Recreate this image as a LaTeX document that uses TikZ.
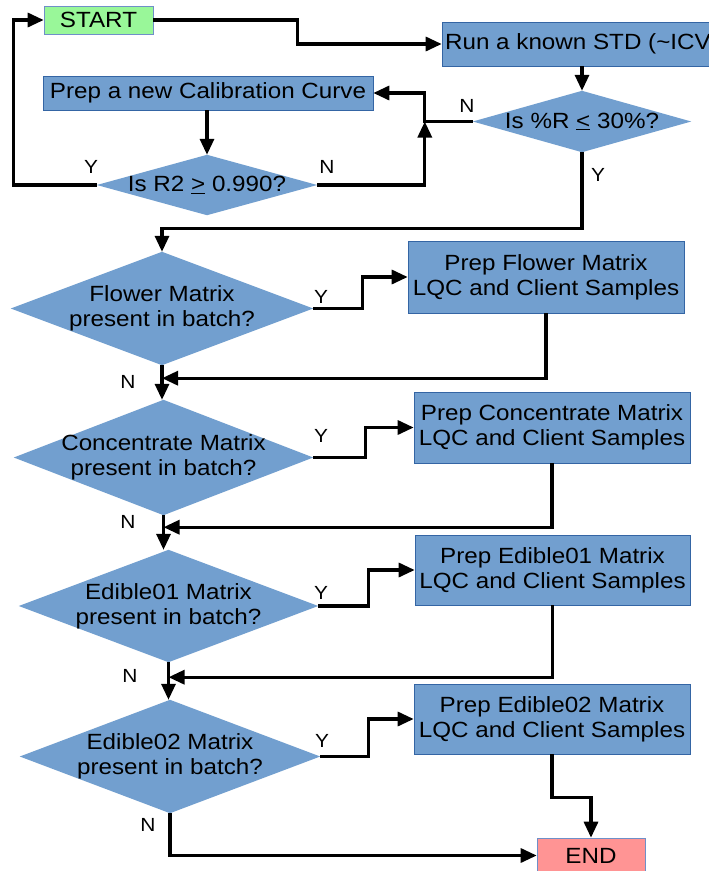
\documentclass[tikz,border=0pt]{standalone}
\usepackage{fontspec}
\setmainfont[FakeStretch=1.1]{Liberation Sans}
\usetikzlibrary{arrows.meta,backgrounds,calc}
\definecolor{boxblue}{HTML}{729FCF}
\definecolor{boxline}{HTML}{3465A4}
\definecolor{startgreen}{HTML}{99F799}
\definecolor{endred}{HTML}{FF9494}
\definecolor{softline}{HTML}{6F8FC8}
\tikzset{
  base/.style={font=\fontsize{22}{25}\selectfont, align=center, inner sep=1pt},
  procbox/.style={base, rectangle, fill=boxblue, draw=boxline, line width=0.6pt},
  termstart/.style={base, rectangle, fill=startgreen, draw=softline, line width=0.6pt},
  termend/.style={base, rectangle, fill=endred, draw=softline, line width=0.6pt},
  diabox/.style={base, rectangle},
  diafill/.style={fill=boxblue},
  arr/.style={draw=black, line width=3.2pt, -{Triangle[length=16pt,width=14pt]}},
  lab/.style={font=\fontsize{19}{21}\selectfont, inner sep=0pt}
}
\begin{document}
\begin{tikzpicture}[x=1pt,y=1pt]
\useasboundingbox (0,0) rectangle (709,-871);

% process and terminal nodes
\node[termstart, minimum width=109, minimum height=28] (start) at (98.5,-20) {START};
\node[procbox, minimum width=280, minimum height=44] (std) at (582,-44) {Run a known STD (\textasciitilde ICV)};
\node[procbox, minimum width=330, minimum height=34] (cal) at (208,-93) {Prep a new Calibration Curve};
\node[procbox, minimum width=276, minimum height=72] (pf) at (546,-277) {Prep Flower Matrix\\LQC and Client Samples};
\node[procbox, minimum width=276, minimum height=71] (pc) at (552,-427.5) {Prep Concentrate Matrix\\LQC and Client Samples};
\node[procbox, minimum width=275, minimum height=70] (pe1) at (552.5,-570) {Prep Edible01 Matrix\\LQC and Client Samples};
\node[procbox, minimum width=276, minimum height=70] (pe2) at (552,-719) {Prep Edible02 Matrix\\LQC and Client Samples};
\node[termend, minimum width=108, minimum height=35] (end) at (591,-855.5) {END};

% decision nodes (diamonds drawn on background)
\node[diabox, minimum width=218, minimum height=61] (pr) at (582,-121.5) {Is \%R \underline{<} 30\%?};
\node[diabox, minimum width=220, minimum height=60] (r2) at (207,-185) {Is R2 \underline{>} 0.990?};
\node[diabox, minimum width=302, minimum height=113] (fl) at (162,-308.5) {Flower Matrix\\present in batch?};
\node[diabox, minimum width=299, minimum height=115] (co) at (163.5,-457.5) {Concentrate Matrix\\present in batch?};
\node[diabox, minimum width=299, minimum height=112] (e1) at (168.5,-606) {Edible01 Matrix\\present in batch?};
\node[diabox, minimum width=300, minimum height=113] (e2) at (170,-756.5) {Edible02 Matrix\\present in batch?};

\begin{scope}[on background layer]
  \fill[white] (0,0) rectangle (709,-871);
  \foreach \d in {pr,r2,fl,co,e1,e2}{
    \fill[diafill] (\d.north) -- (\d.east) -- (\d.south) -- (\d.west) -- cycle;
  }
\end{scope}

% junction points
\coordinate (jn0) at ($(pr.west)+(-48,0)$);
\coordinate (jn1) at ($(fl.south)+(0,-13)$);
\coordinate (jn2) at ($(co.south)+(0,-12)$);
\coordinate (jn3) at ($(e1.south)+(0,-15)$);

% top section
\draw[arr] (start.east) -- ++(144,0) |- (std.west);
\draw[arr] (std.south -| pr.north) -- (pr.north);
\draw[arr] (pr.west) -- (jn0) |- (cal.east);
\draw[arr] (cal.south -| r2.north) -- (r2.north);
\draw[arr] (r2.east) -| (jn0);
\draw[arr] (r2.west) -- ++(-83,0) |- (start.west);
\draw[arr] (pr.south) -- ++(0,-76) -| (fl.north);

% matrix section
\draw[arr] (fl.east) -- ++(49,0) |- (pf.west);
\draw[arr] (pf.south) |- (jn1);
\draw[arr] (fl.south) -- (fl.south |- co.north);

\draw[arr] (co.east) -- ++(52,0) |- (pc.west);
\draw[arr] (pc.south) |- (jn2);
\draw[arr] (co.south) -- (co.south |- e1.north);

\draw[arr] (e1.east) -- ++(50,0) |- (pe1.west);
\draw[arr] (pe1.south) |- (jn3);
\draw[arr] (e1.south) -- (e1.south |- e2.north);

\draw[arr] (e2.east) -- ++(48,0) |- (pe2.west);
\draw[arr] (pe2.south) -- ++(0,-43) -| (end.north);
\draw[arr] (e2.south) |- (end.west);

% labels
\node[lab] (lN1) at (467,-106) {N};
\node[lab] (lN2) at (327,-167) {N};
\node[lab] (lY1) at (91,-167) {Y};
\node[lab] (lY2) at (598,-175) {Y};
\node[lab] (lY3) at (321,-297) {Y};
\node[lab] (lN3) at (128,-382) {N};
\node[lab] (lY4) at (321,-436) {Y};
\node[lab] (lN4) at (128,-522) {N};
\node[lab] (lY5) at (321,-593) {Y};
\node[lab] (lN5) at (130,-676) {N};
\node[lab] (lY6) at (322,-741) {Y};
\node[lab] (lN6) at (148,-825) {N};
\end{tikzpicture}
\end{document}
